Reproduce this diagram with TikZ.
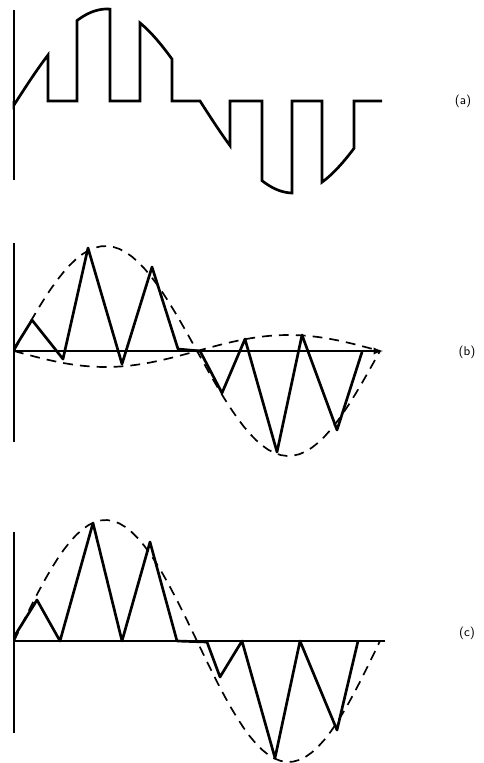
\documentclass[tikz,border=0pt]{standalone}
\usepackage{tikz}
\usetikzlibrary{arrows.meta}

\begin{document}
\begin{tikzpicture}[x=0.025cm,y=-0.025cm,
  wave/.style={line width=1.9pt},
  axis/.style={line width=1.3pt},
  envelope/.style={line width=1.2pt,dash pattern=on 7pt off 5pt},
  tag/.style={font=\sffamily\small},
  declare function={sa(\x)=101-92*sin(((\x-14)/186)*180);
    big(\x)=351-105*sin(((\x-14)/183)*180);
    small(\x)=351+16*sin(((\x-14)/183)*180);
    env(\x)=641-121*sin(((\x-14)/183)*180);}]
\useasboundingbox (0,0) rectangle (484,763);
% (a) sampled sine
\draw[axis](14,10)--(14,180);
\draw[wave](14,101)--plot[domain=14:48,samples=20](\x,{sa(\x)+4})--(48,101)--(77,101)
  --plot[domain=77:110,samples=20](\x,{sa(\x)})--(110,101)--(140,101)
  --plot[domain=140:172,samples=20](\x,{sa(\x)})--(172,101)--(200,101)
  --plot[domain=200:230,samples=20](\x,{sa(\x)})--(230,101)--(262,101)
  --plot[domain=262:292,samples=20](\x,{sa(\x)})--(292,101)--(322,101)
  --plot[domain=322:354,samples=20](\x,{sa(\x)})--(354,101)--(382,101);
\node[tag] (taga) at (463,101) {(a)};
% (b)
\draw[axis](14,243)--(14,442);
\draw[axis,-latex](14,351)--(383,351);
\draw[envelope]plot[domain=14:380,samples=60](\x,{big(\x)});
\draw[envelope]plot[domain=14:380,samples=60](\x,{small(\x)});
\draw[wave,line join=round](14,349)--(32,320)--(63,359)--(88,248)--(122,364)--(152,267)
  --(178,349)--(200,351)--(222,393)--(245,339)--(277,452)--(302,335)--(337,430)--(362,352);
\node[tag] (tagb) at (467,352) {(b)};
% (c)
\draw[axis](14,532)--(14,733);
\draw[axis](14,641)--(385,641);
\draw[envelope]plot[domain=14:380,samples=60](\x,{env(\x)});
\draw[wave,line join=round](14,637)--(37,600)--(60,641)--(93,523)--(122,641)--(150,542)
  --(177,641)--(207,642)--(220,677)--(242,641)--(275,758)--(300,641)--(337,730)--(358,641);
\node[tag] (tagc) at (467,633) {(c)};
\end{tikzpicture}
\end{document}
